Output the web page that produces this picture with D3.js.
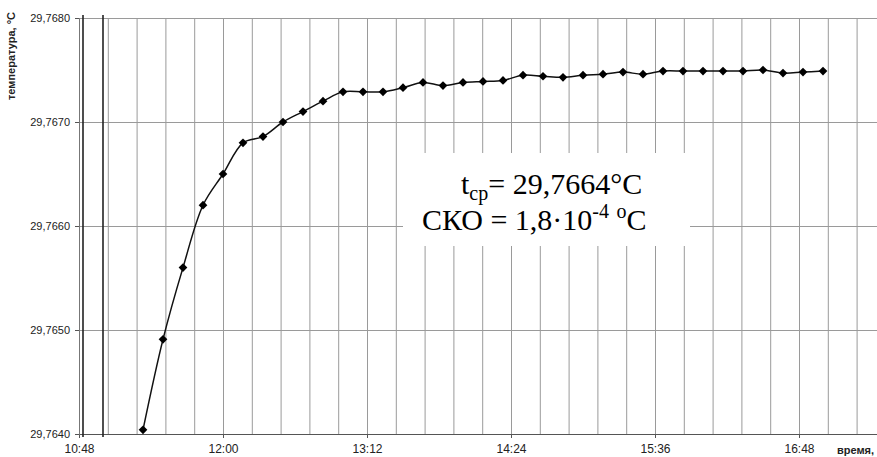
<!DOCTYPE html>
<html>
<head>
<meta charset="utf-8">
<script src="https://cdn.jsdelivr.net/npm/d3@7"></script>
<style>
  body { margin: 0; background: #fff; }
  svg { display: block; font-family: "Liberation Sans", Arial, sans-serif; }
  .grid line { stroke: #9a9a9a; stroke-width: 1; }
  .axis text { fill: #222; }
</style>
</head>
<body>
<div id="chart"></div>
<script>
const times = ['11:20', '11:30', '11:40', '11:50', '12:00', '12:10', '12:20', '12:30', '12:40', '12:50',
    '13:00', '13:10', '13:20', '13:30', '13:40', '13:50', '14:00', '14:10', '14:20', '14:30',
    '14:40', '14:50', '15:00', '15:10', '15:20', '15:30', '15:40', '15:50', '16:00', '16:10',
    '16:20', '16:30', '16:40', '16:50', '17:00'];
const temperatures = [29.76404, 29.76491, 29.76560, 29.76620, 29.76650, 29.76680, 29.76686, 29.76700, 29.76710, 29.76720,
    29.76729, 29.76729, 29.76729, 29.76733, 29.76738, 29.76735, 29.76738, 29.76739, 29.76740, 29.76745,
    29.76744, 29.76743, 29.76745, 29.76746, 29.76748, 29.76746, 29.76749, 29.76749, 29.76749, 29.76749,
    29.76749, 29.76750, 29.76747, 29.76748, 29.76749];

const xTickLabels = ['10:48', '12:00', '13:12', '14:24', '15:36', '16:48'];
const yTicks = [29.764, 29.765, 29.766, 29.767, 29.768];
const markerLines = ['10:50', '11:00']; // the two heavy vertical lines at the left

const svgWidth = 877;
const svgHeight = 457;
const plot = {left: 79, top: 18, right: 877, bottom: 434};

const parseTime = d3.timeParse('%H:%M');
const xStart = parseTime('10:48');
const xEnd = parseTime('17:27');
const gridStep = 14.4 * 60000; // grid every 0.01 day

const x = d3.scaleTime().domain([xStart, xEnd]).range([plot.left, plot.right]);
const y = d3.scaleLinear().domain([29.764, 29.768]).range([plot.bottom, plot.top]);

const formatY = d => d3.format('.4f')(d).replace('.', ',');

const data = times.map((t, i) => ({t: parseTime(t), v: temperatures[i]}));

const svg = d3.select('#chart').append('svg')
    .attr('width', svgWidth)
    .attr('height', svgHeight);

// Vertical grid lines
const gridTimes = d3.range(0, 30)
    .map(i => new Date(xStart.getTime() + i * gridStep))
    .filter(d => d <= xEnd);

svg.append('g')
    .attr('class', 'grid')
    .attr('transform', 'translate(0,' + plot.bottom + ')')
    .call(d3.axisBottom(x)
        .tickValues(gridTimes)
        .tickSize(-(plot.bottom - plot.top))
        .tickFormat(''))
    .call(g => g.select('.domain').remove());

// Horizontal grid lines
svg.append('g')
    .attr('class', 'grid')
    .attr('transform', 'translate(' + plot.left + ',0)')
    .call(d3.axisLeft(y)
        .tickValues(yTicks)
        .tickSize(-(plot.right - plot.left))
        .tickFormat(''))
    .call(g => g.select('.domain').remove());

// X axis with labels every 72 minutes
const xAxis = svg.append('g')
    .attr('class', 'axis')
    .attr('transform', 'translate(0,' + plot.bottom + ')')
    .call(d3.axisBottom(x)
        .tickValues(xTickLabels.map(parseTime))
        .tickSize(4)
        .tickPadding(6)
        .tickFormat(d3.timeFormat('%H:%M')));
xAxis.select('.domain').attr('stroke', '#555');
xAxis.selectAll('.tick line').attr('stroke', '#555');
xAxis.selectAll('text').style('font-size', '12px');

// Y axis
const yAxis = svg.append('g')
    .attr('class', 'axis')
    .attr('transform', 'translate(' + plot.left + ',0)')
    .call(d3.axisLeft(y)
        .tickValues(yTicks)
        .tickSize(4)
        .tickPadding(5)
        .tickFormat(formatY));
yAxis.select('.domain').attr('stroke', '#777');
yAxis.selectAll('.tick line').attr('stroke', '#555');
yAxis.selectAll('text').style('font-size', '11px');

// Heavy vertical lines
svg.append('g').selectAll('line')
    .data(markerLines)
    .enter()
    .append('line')
        .attr('x1', d => x(parseTime(d)))
        .attr('x2', d => x(parseTime(d)))
        .attr('y1', plot.top - 3)
        .attr('y2', plot.bottom + 3)
        .attr('stroke', '#222')
        .attr('stroke-width', 1.6);

// Axis titles
svg.append('text')
    .attr('transform', 'translate(15,12) rotate(-90)')
    .attr('text-anchor', 'end')
    .style('font-size', '11px')
    .style('font-weight', 'bold')
    .attr('fill', '#222')
    .text('температура, °C');

svg.append('text')
    .attr('x', 837)
    .attr('y', 454)
    .style('font-size', '11px')
    .style('font-weight', 'bold')
    .attr('fill', '#222')
    .text('время,');

// Data line and markers
const line = d3.line()
    .x(d => x(d.t))
    .y(d => y(d.v))
    .curve(d3.curveCatmullRom.alpha(0.5));

svg.append('path')
    .datum(data)
    .attr('fill', 'none')
    .attr('stroke', '#111')
    .attr('stroke-width', 1.5)
    .attr('d', line);

svg.append('g').selectAll('path')
    .data(data)
    .enter()
    .append('path')
        .attr('transform', d => 'translate(' + x(d.t) + ',' + y(d.v) + ') rotate(45)')
        .attr('d', d3.symbol().type(d3.symbolSquare).size(38))
        .attr('fill', '#000');

// Annotation boxes
svg.append('rect')
    .attr('x', 420).attr('y', 153)
    .attr('width', 268).attr('height', 54)
    .attr('fill', '#fff');
svg.append('rect')
    .attr('x', 403).attr('y', 205)
    .attr('width', 287).attr('height', 41)
    .attr('fill', '#fff');

const note = svg.append('g')
    .style('font-family', '"Liberation Serif", "Times New Roman", serif')
    .style('font-size', '30px')
    .attr('fill', '#000');

const line1 = note.append('text').attr('x', 461).attr('y', 194);
line1.append('tspan').text('t');
line1.append('tspan').attr('dy', 6).style('font-size', '20px').text('ср');
line1.append('tspan').attr('dy', -6).text('= 29,7664°C');

const line2 = note.append('text').attr('x', 422).attr('y', 230);
line2.append('tspan').text('СКО = 1,8·10');
line2.append('tspan').attr('dy', -12).style('font-size', '20px').text('-4');
line2.append('tspan').attr('dy', 12).text(' ');
line2.append('tspan').attr('dy', -12).style('font-size', '20px').text('o');
line2.append('tspan').attr('dy', 12).text('C');
</script>
</body>
</html>
